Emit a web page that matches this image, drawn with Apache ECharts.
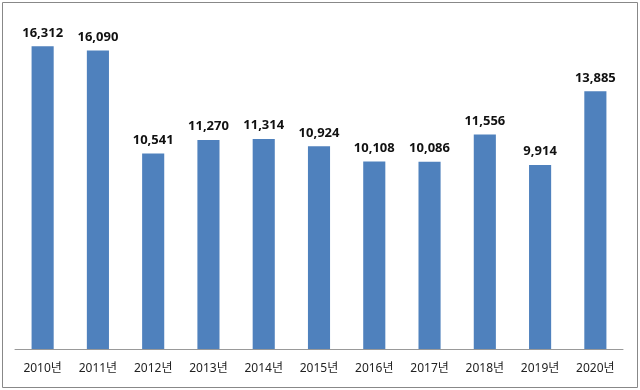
<!DOCTYPE html>
<html><head><meta charset="utf-8">
<script src="https://cdn.jsdelivr.net/npm/echarts@6/dist/echarts.min.js"></script>
<style>html,body{margin:0;padding:0;background:#fff}#c{width:640px;height:390px}</style>
</head><body><div id="c"></div>
<script>
const categories = ['2010년','2011년','2012년','2013년','2014년','2015년','2016년','2017년','2018년','2019년','2020년'];
const values = [16312,16090,10541,11270,11314,10924,10108,10086,11556,9914,13885];
const chart = echarts.init(document.getElementById('c'));
chart.setOption({
  animation:false,
  backgroundColor:'#fff',
  graphic:[{type:'rect',shape:{x:2.5,y:2.5,width:635,height:385},style:{fill:'none',stroke:'#888',lineWidth:1}}],
  grid:{left:15,right:17,top:15,bottom:41},
  xAxis:{type:'category',data:categories,
    axisLine:{lineStyle:{color:'#999',width:1}},axisTick:{show:false},
    axisLabel:{color:'#222',fontSize:12,margin:14,fontFamily:"'Noto Sans','Noto Sans CJK KR',sans-serif"}},
  yAxis:{type:'value',min:0,max:18000,show:false,splitLine:{show:false}},
  series:[{type:'bar',data:values,barWidth:'40%',itemStyle:{color:'#4f81bd'},
    label:{show:true,position:'top',distance:7,color:'#111',fontWeight:'bold',fontSize:13,
      fontFamily:"'Noto Sans',sans-serif",formatter:p=>p.value.toLocaleString('en-US')}}]
});
</script></body></html>
